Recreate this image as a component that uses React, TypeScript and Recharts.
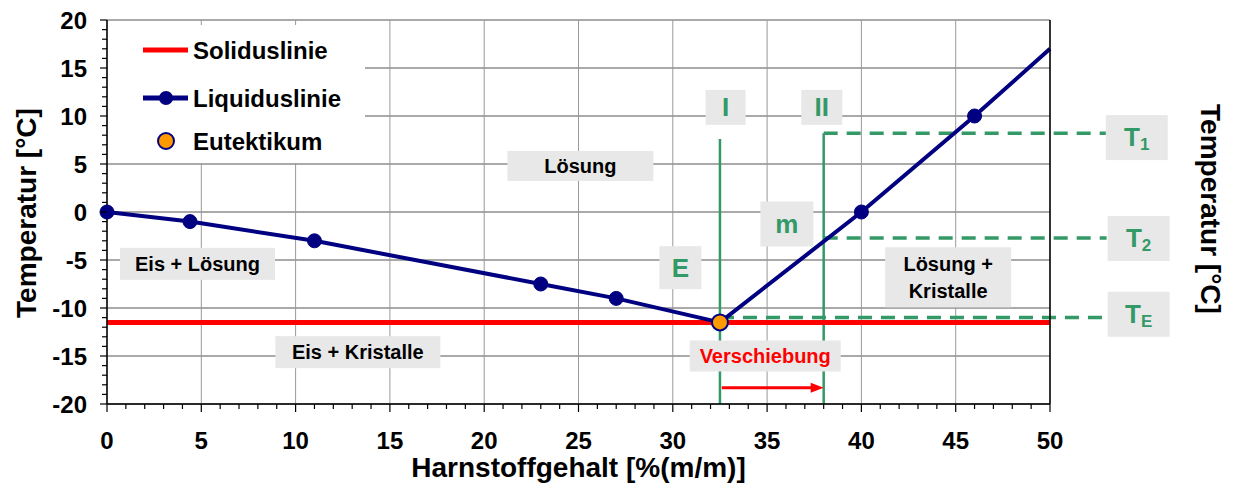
import React from 'react';
import {
  ComposedChart, Line, Scatter, XAxis, YAxis, CartesianGrid, ReferenceLine, ReferenceDot, Legend
} from 'recharts';

const FONT = '"Liberation Sans", Arial, Helvetica, sans-serif';
const NAVY = '#000080';
const RED = '#ff0000';
const GREEN = '#339966';
const ORANGE = '#ff9900';
const BOX = '#e8e8e8';

// Liquiduslinie (Harnstoffgehalt in %(m/m), Temperatur in °C)
const liquidusX = [0, 4.4, 11, 23, 27, 32.5, 40, 46, 50];
const liquidusY = [0, -1, -3, -7.5, -9, -11.5, 0, 10, 17];
// Punkt am Eutektikum wird vom Eutektikum-Marker gezeichnet, am Rand kein Marker
const liquidusMarked = [true, true, true, true, true, false, true, true, false];

// Soliduslinie
const solidusX = [0, 50];
const solidusY = [-11.5, -11.5];

// Eutektikum
const eutecticX = [32.5];
const eutecticY = [-11.5];

// Achsen
const xMajor = [0, 5, 10, 15, 20, 25, 30, 35, 40, 45, 50];
const yMajor = [-20, -15, -10, -5, 0, 5, 10, 15, 20];
const xTicks = Array.from({ length: 51 }, (_, i) => i);
const yTicks = Array.from({ length: 41 }, (_, i) => i - 20);

// Hilfslinien I / II und Temperaturniveaus
const guideX = [32.5, 38];
const guideTop = [7.6, 8.2];
const levelY = [8.2, -2.7, -11];
const levelFrom = [38, 38, 32.5];
const levelTo = 53;
const shiftFrom = 32.6;
const shiftTo = 38;
const shiftY = -18.3;

// Beschriftungen
const areaText = [['Lösung'], ['Eis + Lösung'], ['Eis + Kristalle'], ['Lösung +', 'Kristalle']];
const areaX = [25.1, 4.8, 13.3, 44.6];
const areaY = [4.8, -5.4, -14.6, -6.8];
const areaBox = [{ w: 146, h: 30 }, { w: 155, h: 32 }, { w: 165, h: 32 }, { w: 126, h: 60 }];

const markText = ['I', 'II', 'E', 'm'];
const markX = [32.8, 37.9, 30.4, 36.05];
const markY = [10.9, 10.9, -5.8, -1.25];
const markBox = [{ w: 40, h: 35 }, { w: 41, h: 35 }, { w: 42, h: 43 }, { w: 53, h: 45 }];

const tempSub = ['1', '2', 'E'];
const tempX = [54.6, 54.7, 54.7];
const tempY = [7.8, -2.7, -10.6];

const shiftText = 'Verschiebung';
const shiftLabelX = 34.9;
const shiftLabelY = -15;

const liquidus = liquidusX.map((x, i) => ({ x, y: liquidusY[i], marked: liquidusMarked[i] }));
const solidus = solidusX.map((x, i) => ({ x, y: solidusY[i] }));
const eutectic = eutecticX.map((x, i) => ({ x, y: eutecticY[i] }));

const XTick = (props: any) => {
  const { x, y, payload } = props;
  const major = payload.value % 5 === 0;
  return (
    <g>
      <line x1={x} x2={x} y1={y} y2={y + (major ? 8 : 5)} stroke="#000" strokeWidth={1.2} />
      {major && (
        <text x={x} y={y + 36} textAnchor="middle" dominantBaseline="central"
          fontFamily={FONT} fontWeight="bold" fontSize={24} fill="#000">{payload.value}</text>
      )}
    </g>
  );
};

const YTickLeft = (props: any) => {
  const { x, y, payload } = props;
  const major = payload.value % 5 === 0;
  return (
    <g>
      <line x1={x - (major ? 7 : 5)} x2={x} y1={y} y2={y} stroke="#000" strokeWidth={1.2} />
      {major && (
        <text x={x - 20} y={y} textAnchor="end" dominantBaseline="central"
          fontFamily={FONT} fontWeight="bold" fontSize={24} fill="#000">{payload.value}</text>
      )}
    </g>
  );
};

const YTickRight = (props: any) => {
  const { x, y, payload } = props;
  const major = payload.value % 5 === 0;
  return (
    <g>
      <line x1={x - (major ? 3 : 0)} x2={x + (major ? 10 : 7)} y1={y} y2={y} stroke="#000" strokeWidth={1.2} />
      {major && (
        <text x={x + 20} y={y} textAnchor="start" dominantBaseline="central"
          fontFamily={FONT} fontWeight="bold" fontSize={24} fill="#000">{payload.value}</text>
      )}
    </g>
  );
};

const boxShape = (lines: string[], w: number, h: number, color: string, size: number, gap = 27) => (props: any) => {
  const { cx, cy } = props;
  const first = cy - ((lines.length - 1) * gap) / 2;
  return (
    <g>
      <rect x={cx - w / 2} y={cy - h / 2} width={w} height={h} fill={BOX} />
      {lines.map((t, i) => (
        <text key={i} x={cx} y={first + i * gap} textAnchor="middle" dominantBaseline="central"
          fontFamily={FONT} fontWeight="bold" fontSize={size} fill={color}>{t}</text>
      ))}
    </g>
  );
};

const tempShape = (sub: string) => (props: any) => {
  const { cx, cy } = props;
  return (
    <g>
      <rect x={cx - 31} y={cy - 22} width={62} height={45} fill={BOX} />
      <text x={cx} y={cy} textAnchor="middle" dominantBaseline="central"
        fontFamily={FONT} fontWeight="bold" fontSize={26} fill={GREEN}>
        T<tspan fontSize={17} dy={7}>{sub}</tspan>
      </text>
    </g>
  );
};

const arrowShape = (props: any) => {
  const { x1, y1, x2, y2 } = props;
  return (
    <g>
      <line x1={x1} y1={y1} x2={x2 - 10} y2={y2} stroke={RED} strokeWidth={3} />
      <polygon points={`${x2},${y2} ${x2 - 13},${y2 - 5} ${x2 - 13},${y2 + 5}`} fill={RED} />
    </g>
  );
};

const liquidusDot = (props: any) => {
  const { cx, cy, index, payload } = props;
  if (!payload.marked) return <g key={`d${index}`} />;
  return <circle key={`d${index}`} cx={cx} cy={cy} r={7} fill={NAVY} stroke={NAVY} />;
};

const eutecticShape = (p: any) => (
  <circle cx={p.cx} cy={p.cy} r={8} fill={ORANGE} stroke={NAVY} strokeWidth={2} />
);

const LegendBox = () => (
  <div style={{ width: 257, height: 138, background: '#fff' }}>
    <svg width={257} height={138}>
      <line x1={35} x2={80} y1={25} y2={25} stroke={RED} strokeWidth={5} />
      <text x={85} y={25} dominantBaseline="central" fontFamily={FONT} fontWeight="bold" fontSize={24}>Soliduslinie</text>
      <line x1={35} x2={80} y1={73} y2={73} stroke={NAVY} strokeWidth={5} />
      <circle cx={58} cy={73} r={7} fill={NAVY} />
      <text x={85} y={73} dominantBaseline="central" fontFamily={FONT} fontWeight="bold" fontSize={24}>Liquiduslinie</text>
      <circle cx={58} cy={116} r={8} fill={ORANGE} stroke={NAVY} strokeWidth={2} />
      <text x={85} y={116} dominantBaseline="central" fontFamily={FONT} fontWeight="bold" fontSize={24}>Eutektikum</text>
    </svg>
  </div>
);

const App = () => {
  return (
    <div style={{ position: 'absolute', left: 0, top: 0, background: '#fff' }}>
      <ComposedChart width={1233} height={486} margin={{ top: 20, right: 0, bottom: 0, left: 0 }}>
        <CartesianGrid vertical={false} horizontalValues={yMajor} stroke="#555" strokeWidth={1} />
        <CartesianGrid horizontal={false} verticalValues={xMajor} stroke="#999" strokeWidth={1} />
        <XAxis type="number" dataKey="x" domain={[0, 50]} ticks={xTicks} interval={0}
          height={82} tickSize={0} tickMargin={0} tick={<XTick />} tickLine={false}
          axisLine={{ stroke: '#000', strokeWidth: 1.5 }}
          label={() => (
            <text x={578.5} y={467} textAnchor="middle" dominantBaseline="central"
              fontFamily={FONT} fontWeight="bold" fontSize={28}>Harnstoffgehalt [%(m/m)]</text>
          )} />
        <YAxis type="number" domain={[-20, 20]} ticks={yTicks} interval={0} width={107}
          tickSize={0} tickMargin={0} tick={<YTickLeft />} tickLine={false}
          axisLine={{ stroke: '#000', strokeWidth: 1.5 }}
          label={() => (
            <text x={26} y={213} textAnchor="middle" dominantBaseline="central"
              transform="rotate(-90 26 213)"
              fontFamily={FONT} fontWeight="bold" fontSize={28}>Temperatur [°C]</text>
          )} />
        <YAxis yAxisId="r" orientation="right" type="number" domain={[-20, 20]} ticks={yTicks}
          interval={0} width={183} tickSize={0} tickMargin={0} tick={<YTickRight />} tickLine={false}
          axisLine={{ stroke: '#000', strokeWidth: 1.5 }}
          label={() => (
            <text x={1210} y={209} textAnchor="middle" dominantBaseline="central"
              transform="rotate(90 1210 209)"
              fontFamily={FONT} fontWeight="bold" fontSize={28}>Temperatur [°C]</text>
          )} />
        <Legend layout="vertical" align="center" verticalAlign="middle"
          wrapperStyle={{ left: 108, top: 25, width: 257, height: 138 }}
          content={() => <LegendBox />} />

        {guideX.map((x, i) => (
          <ReferenceLine key={`g${i}`} segment={[{ x, y: guideTop[i] }, { x, y: -20 }]}
            stroke={GREEN} strokeWidth={2.5} ifOverflow="visible" />
        ))}
        {levelY.map((y, i) => (
          <ReferenceLine key={`l${i}`} segment={[{ x: levelFrom[i], y }, { x: levelTo, y }]}
            stroke={GREEN} strokeWidth={3.5} strokeDasharray="14 9" ifOverflow="visible" />
        ))}
        <ReferenceLine segment={[{ x: shiftFrom, y: shiftY }, { x: shiftTo, y: shiftY }]}
          ifOverflow="visible" shape={arrowShape} />

        <Line data={solidus} dataKey="y" stroke={RED} strokeWidth={5} dot={false}
          isAnimationActive={false} legendType="none" />
        <Line data={liquidus} dataKey="y" stroke={NAVY} strokeWidth={4} dot={liquidusDot}
          activeDot={false} isAnimationActive={false} legendType="none" />
        <Scatter data={eutectic} dataKey="y" isAnimationActive={false} legendType="none"
          zIndex={1000} shape={eutecticShape} />

        {areaText.map((lines, i) => (
          <ReferenceDot key={`a${i}`} x={areaX[i]} y={areaY[i]} ifOverflow="visible"
            shape={boxShape(lines, areaBox[i].w, areaBox[i].h, '#000', 20)} />
        ))}
        {markText.map((t, i) => (
          <ReferenceDot key={`m${i}`} x={markX[i]} y={markY[i]} ifOverflow="visible"
            shape={boxShape([t], markBox[i].w, markBox[i].h, GREEN, 26)} />
        ))}
        {tempSub.map((s, i) => (
          <ReferenceDot key={`t${i}`} x={tempX[i]} y={tempY[i]} ifOverflow="visible"
            shape={tempShape(s)} />
        ))}
        <ReferenceDot x={shiftLabelX} y={shiftLabelY} ifOverflow="visible"
          shape={boxShape([shiftText], 151, 31, RED, 20)} />
      </ComposedChart>
    </div>
  );
};

export default App;
